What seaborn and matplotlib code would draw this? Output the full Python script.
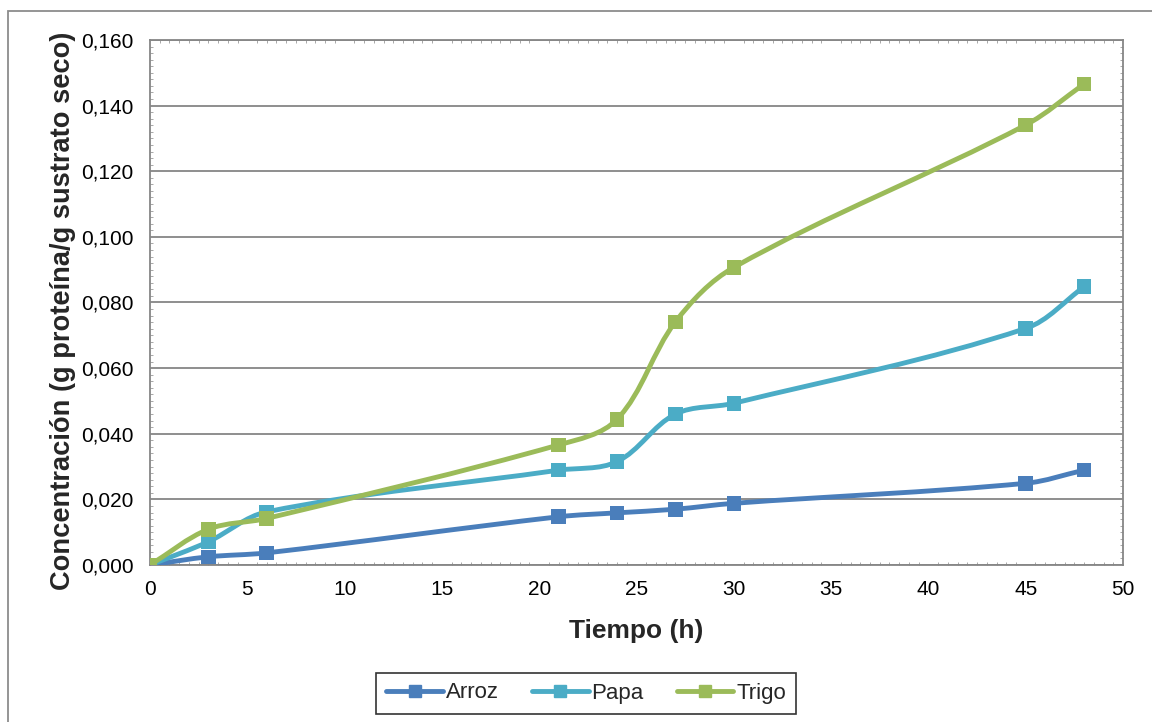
import numpy as np
import pandas as pd
import matplotlib
matplotlib.use("Agg")
import matplotlib.pyplot as plt
from matplotlib.path import Path
from matplotlib.patches import PathPatch, Rectangle
from matplotlib.lines import Line2D
from matplotlib.ticker import FuncFormatter, MultipleLocator
import seaborn as sns

# Tiempo de fermentación (h) y concentración de proteína por sustrato
tiempo = [0, 3, 6, 21, 24, 27, 30, 45, 48]
arroz = [0.0, 0.0025, 0.0037, 0.0147, 0.0159, 0.0170, 0.0188, 0.0249, 0.0289]
papa = [0.0, 0.0071, 0.0162, 0.0289, 0.0315, 0.0460, 0.0493, 0.0721, 0.0848]
trigo = [0.0, 0.0109, 0.0142, 0.0366, 0.0444, 0.0741, 0.0907, 0.1341, 0.1466]

series_names = ["Arroz", "Papa", "Trigo"]
colores = {"Arroz": "#4A7EBB", "Papa": "#4BACC6", "Trigo": "#9BBB59"}

df = pd.DataFrame({"Tiempo": tiempo, "Arroz": arroz, "Papa": papa, "Trigo": trigo})
long_df = df.melt(id_vars="Tiempo", var_name="Sustrato", value_name="Concentracion")

sns.set_theme(style="white")
plt.rcParams["font.family"] = ["Liberation Sans", "DejaVu Sans"]

fig = plt.figure(figsize=(11.52, 7.22), dpi=100)
ax = fig.add_axes([150 / 1152, 1 - 565 / 722, (1123 - 150) / 1152, (565 - 40) / 722])

XMAX, YMAX = 50, 0.160
ax.set_xlim(0, XMAX)
ax.set_ylim(0, YMAX)

# Borde del área del gráfico
fig.patches.append(Rectangle((8 / 1152, -0.2), 1.2, 1.2 - 11 / 722,
                             transform=fig.transFigure, fill=False,
                             edgecolor="#8c8c8c", linewidth=1.3, zorder=0))


def smooth_path(xs, ys, sx, sy):
    """Curva suavizada (Bezier cúbica) que pasa por todos los puntos.

    La tangente en cada punto sigue la dirección entre sus vecinos y su
    longitud se ajusta a cada tramo, en espacio de pantalla (sx, sy).
    """
    pts = np.column_stack([np.asarray(xs, float) * sx, np.asarray(ys, float) * sy])
    n = len(pts)
    tang = []
    for i in range(n):
        a = pts[max(i - 1, 0)]
        b = pts[min(i + 1, n - 1)]
        d = b - a
        tang.append(d / (np.hypot(*d) or 1.0))
    verts = [pts[0]]
    codes = [Path.MOVETO]
    for i in range(n - 1):
        p1, p2 = pts[i], pts[i + 1]
        chord = np.hypot(*(p2 - p1))
        c1 = p1 + tang[i] * chord / 3.0
        c2 = p2 - tang[i + 1] * chord / 3.0
        verts += [c1, c2, p2]
        codes += [Path.CURVE4] * 3
    verts = np.array(verts)
    verts[:, 0] /= sx
    verts[:, 1] /= sy
    return Path(verts, codes)


# escala aproximada en píxeles por unidad de datos
SX = (1123 - 150) / XMAX
SY = (565 - 40) / YMAX

for k, name in enumerate(series_names):
    sub = long_df[long_df["Sustrato"] == name]
    patch = PathPatch(smooth_path(sub["Tiempo"].values, sub["Concentracion"].values, SX, SY),
                      facecolor="none", edgecolor=colores[name], linewidth=3.5,
                      capstyle="round", joinstyle="round", zorder=3 + 2 * k)
    ax.add_patch(patch)
    sns.scatterplot(data=sub, x="Tiempo", y="Concentracion", ax=ax, marker="s",
                    s=110, color=colores[name], edgecolor="none", linewidth=0,
                    zorder=4 + 2 * k, legend=False)

ax.set_xlim(0, XMAX)
ax.set_ylim(0, YMAX)
ax.xaxis.set_major_locator(MultipleLocator(5))
ax.yaxis.set_major_locator(MultipleLocator(0.02))
ax.xaxis.set_minor_locator(MultipleLocator(0.5))
ax.yaxis.set_minor_locator(MultipleLocator(0.002))
ax.yaxis.set_major_formatter(FuncFormatter(lambda v, p: f"{v:.3f}".replace(".", ",")))

ax.grid(axis="y", which="major", color="#868686", linewidth=1.3)
ax.grid(axis="x", visible=False)
ax.set_axisbelow(True)

for side in ["left", "right", "top", "bottom"]:
    ax.spines[side].set_visible(True)
    ax.spines[side].set_color("#868686")
    ax.spines[side].set_linewidth(1.3)

ax.tick_params(axis="both", which="major", labelsize=15, colors="#000000", length=0)
ax.tick_params(axis="x", which="major", pad=11)
ax.tick_params(axis="y", which="major", pad=12)
ax.tick_params(axis="x", which="minor", bottom=True, top=True, direction="in",
               length=2.5, width=0.6, color="#9a9a9a")
ax.tick_params(axis="y", which="minor", left=True, right=True, direction="in",
               length=2.5, width=0.6, color="#9a9a9a")

ax.set_xlabel("Tiempo (h)", fontsize=19, fontweight="bold", labelpad=14)
ax.set_ylabel("Concentración (g proteína/g sustrato seco)", fontsize=19.6,
              fontweight="bold")
ax.yaxis.set_label_coords(-0.076, 0.485)

handles = [Line2D([0], [0], color=colores[n], linewidth=3.5, marker="s",
                  markersize=8, solid_capstyle="round") for n in series_names]
leg = fig.legend(handles, series_names, loc="center", bbox_to_anchor=(586 / 1152, 1 - 693 / 722),
                 ncol=3, frameon=True, fancybox=False, fontsize=16,
                 handlelength=2.55, handletextpad=0.12, columnspacing=1.5,
                 borderpad=0.45, edgecolor="#000000")
leg.get_frame().set_linewidth(1.2)

fig.savefig("out.png", dpi=100, facecolor="white")
